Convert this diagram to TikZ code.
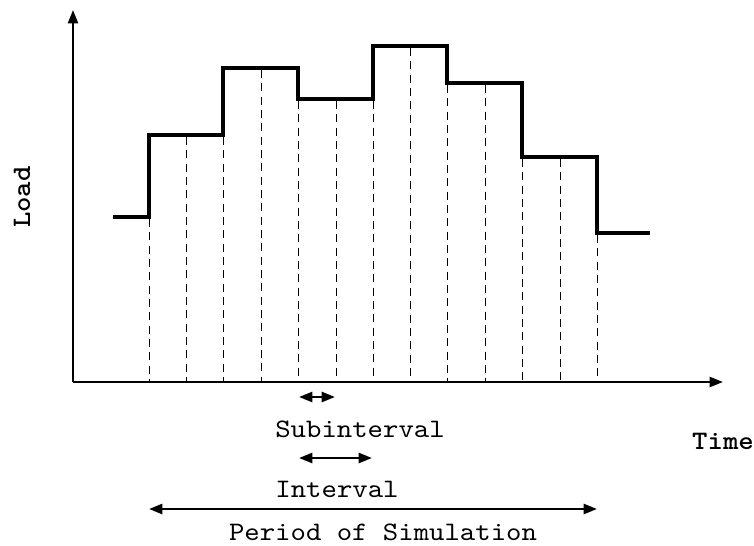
\documentclass[tikz,border=0pt]{standalone}
\usepackage{fontspec}
\newfontfamily\cour{lmmono10-regular}[Extension=.otf, BoldFont=lmmonolt10-bold, FakeStretch=1.1]
\usetikzlibrary{arrows.meta}
\tikzset{
  axis/.style={line width=1.6pt,-{Triangle[length=10pt,width=7.5pt]}},
  stepline/.style={line width=3.2pt,line join=miter},
  grid/.style={line width=0.75pt,dash pattern=on 6pt off 4pt},
  dim/.style={line width=1.9pt,{Triangle[length=10pt,width=7.5pt]}-{Triangle[length=10pt,width=7.5pt]}},
  lbl/.style={font=\cour\fontsize{20}{23}\selectfont,inner sep=0pt},
  blbl/.style={font=\cour\fontsize{20}{23}\selectfont\bfseries,inner sep=0pt},
}
\begin{document}
\begin{tikzpicture}[x=0.75pt,y=-0.75pt]
\useasboundingbox (0,0) rectangle (754,546);
\coordinate (O) at (73,382);
\coordinate (Ytop) at (73,10);
\coordinate (Xend) at (723,382);
\draw[axis] (O) -- (Ytop);
\draw[axis] (O) -- (Xend);
% step function
\draw[stepline] (113,217) -- (149,217) -- (149,135) -- (223,135) -- (223,68) -- (298,68) -- (298,99) -- (373,99) -- (373,46) -- (447,46) -- (447,83) -- (522,83) -- (522,157) -- (597,157) -- (597,233) -- (650,233);
% dashed lines
\foreach \x/\y in {149/217,186/135,223/135,261/68,298/99,336/99,373/99,410/46,447/83,485/83,522/157,560/157,597/233}
  \draw[grid] (\x,\y+2) -- (\x,381);
% dimension arrows
\coordinate (s1) at (299,397); \coordinate (s2) at (335,397);
\coordinate (i1) at (299,458); \coordinate (i2) at (372,458);
\coordinate (p1) at (149,509); \coordinate (p2) at (597,509);
\draw[dim] (s1) -- (s2);
\draw[dim] (i1) -- (i2);
\draw[dim] (p1) -- (p2);
\node[lbl] (sub) at (360,429) {Subinterval};
\node[lbl] (int) at (337,489) {Interval};
\node[lbl] (per) at (383,532) {Period of Simulation};
\node[blbl] (time) at (723,441) {Time};
\node[blbl,rotate=90] (load) at (22,197) {Load};
\end{tikzpicture}
\end{document}
